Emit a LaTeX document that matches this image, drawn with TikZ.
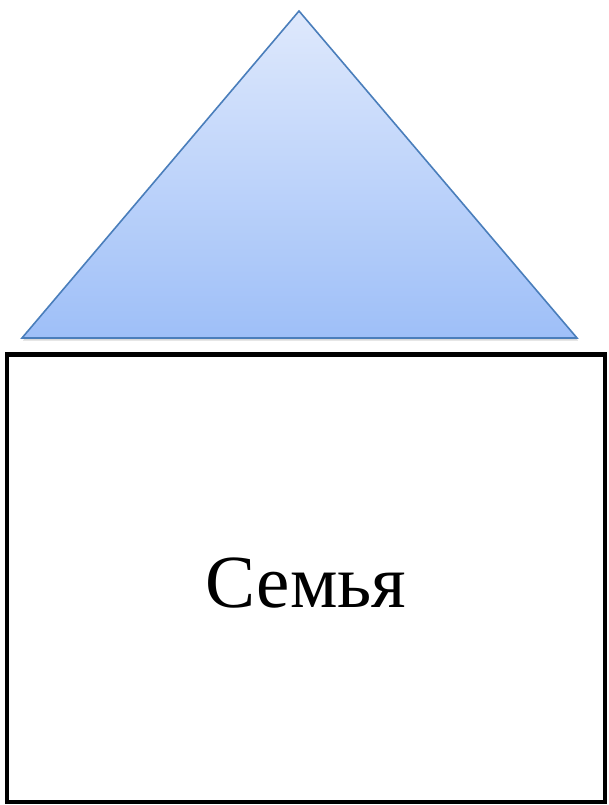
\documentclass[tikz,border=0pt]{standalone}
\usepackage{fontspec}
\setmainfont{Liberation Serif}
\usetikzlibrary{positioning,shadows}
\definecolor{roofedge}{HTML}{4A7EBB}
\definecolor{rooftop}{HTML}{DFE9FC}
\definecolor{roofbot}{HTML}{9EBFF8}

\begin{document}
\begin{tikzpicture}[
    x=1pt, y=-1pt,
    roof/.style={draw=roofedge, line width=1.6pt, line join=miter, top color=rooftop, bottom color=roofbot,
                 drop shadow={shadow xshift=1pt, shadow yshift=-2.5pt, opacity=0.3}},
    body/.style={draw, line width=4.5pt, minimum width=598pt, minimum height=447.5pt, inner sep=0pt,
                 font=\fontsize{75}{82}\selectfont}
]
\useasboundingbox (0,0) rectangle (608,805);
\coordinate (apex) at (299,11);
\coordinate (left) at (22,338);
\coordinate (right) at (577,338);
\path[roof] (apex) -- (right) -- (left) -- cycle;
\node[body] (house) at (306,578.25) {\raisebox{-29pt}[0pt][0pt]{Семья}};
\end{tikzpicture}
\end{document}
